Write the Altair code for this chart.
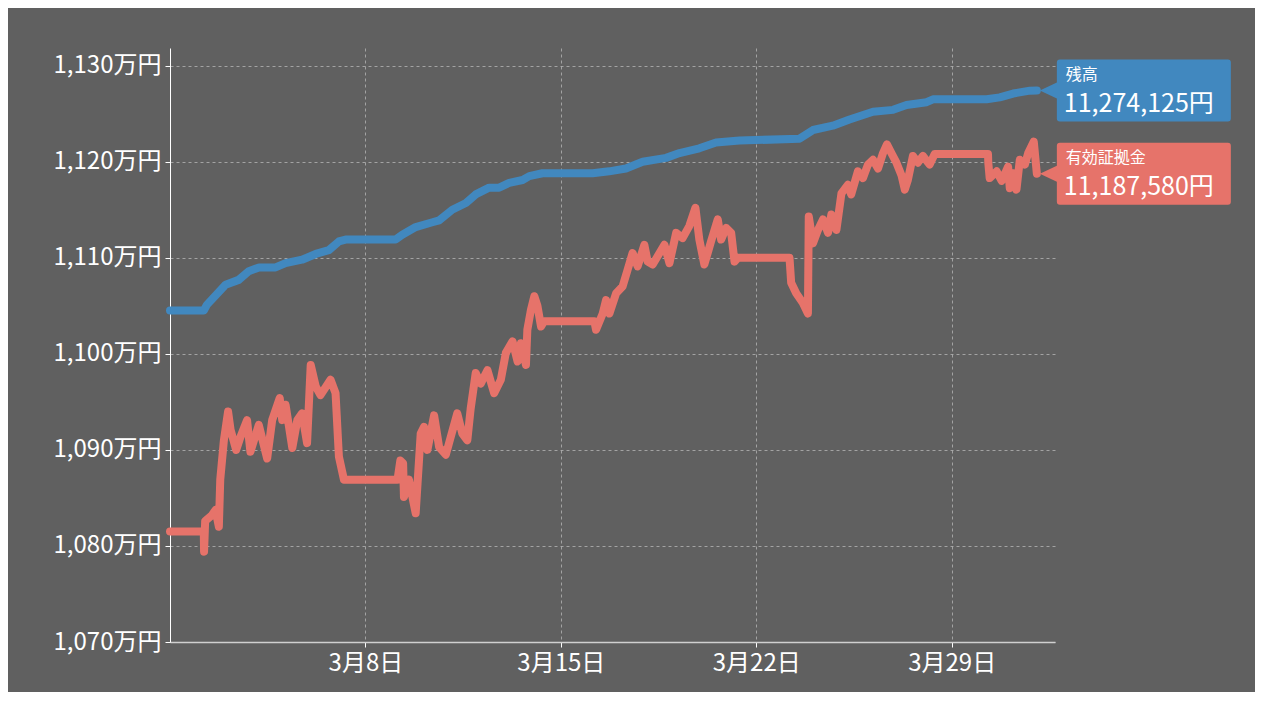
import altair as alt
import numpy as np
import pandas as pd

# ---- data ----
# day of March 2020 as a fractional number (1.0 = 3月1日 0:00), values in 万円
balance_day = [1.00, 2.21, 2.32, 2.99, 3.46, 3.82, 4.19, 4.78, 5.14, 5.73, 6.22, 6.69,
               7.05, 7.29, 9.08, 9.32, 9.80, 10.40, 10.64, 11.11, 11.60, 11.95, 12.43,
               12.79, 13.15, 13.63, 13.87, 14.34, 16.14, 16.73, 17.33, 17.93, 18.77,
               19.25, 19.96, 20.56, 21.40, 23.55, 24.03, 24.74, 25.34, 26.18, 26.90,
               27.38, 28.10, 28.33, 30.25, 30.72, 31.20, 31.80, 32.05]
balance_man = [1104.5, 1104.5, 1105.1, 1107.2, 1107.7, 1108.6, 1109.0, 1109.0, 1109.45,
               1109.8, 1110.4, 1110.8, 1111.7, 1111.9, 1111.9, 1112.4, 1113.2, 1113.7,
               1113.9, 1115.0, 1115.7, 1116.6, 1117.3, 1117.3, 1117.8, 1118.1, 1118.5,
               1118.8, 1118.8, 1119.0, 1119.3, 1120.0, 1120.4, 1120.9, 1121.4, 1122.0,
               1122.2, 1122.4, 1123.3, 1123.75, 1124.4, 1125.2, 1125.4, 1125.9, 1126.2,
               1126.5, 1126.5, 1126.7, 1127.1, 1127.4, 1127.4125]

margin_day = [1.00, 2.21, 2.22, 2.26, 2.50, 2.63, 2.75, 2.80, 2.93, 3.08, 3.17, 3.37,
              3.53, 3.76, 3.88, 4.18, 4.48, 4.66, 4.93, 5.02, 5.14, 5.38, 5.56, 5.73,
              5.91, 6.04, 6.22, 6.39, 6.75, 6.93, 7.05, 7.23, 9.15, 9.25, 9.35, 9.38,
              9.56, 9.80, 9.98, 10.10, 10.22, 10.46, 10.64, 10.88, 11.06, 11.29, 11.47,
              11.65, 11.77, 11.95, 12.13, 12.37, 12.61, 12.85, 13.03, 13.27, 13.45,
              13.57, 13.75, 13.80, 13.93, 14.05, 14.16, 14.29, 14.40, 16.20, 16.26,
              16.50, 16.62, 16.74, 16.98, 17.21, 17.39, 17.57, 17.75, 17.99, 18.11,
              18.29, 18.71, 18.89, 19.13, 19.36, 19.60, 19.82, 19.96, 20.14, 20.38,
              20.62, 20.74, 20.92, 21.10, 21.22, 21.34, 23.19, 23.25, 23.43, 23.67,
              23.85, 23.88, 24.03, 24.21, 24.39, 24.57, 24.69, 24.87, 25.05, 25.28,
              25.40, 25.64, 25.82, 26.00, 26.18, 26.36, 26.54, 26.68, 26.84, 27.02,
              27.20, 27.32, 27.43, 27.61, 27.79, 27.97, 28.21, 28.39, 30.30, 30.31,
              30.36, 30.61, 30.79, 31.02, 31.08, 31.20, 31.32, 31.44, 31.62, 31.74,
              31.94, 32.05]
margin_man = [1081.5, 1081.5, 1079.4, 1082.6, 1083.2, 1083.75, 1082.0, 1086.9, 1091.0,
              1094.0, 1092.1, 1090.0, 1091.4, 1093.1, 1089.8, 1092.6, 1089.1, 1093.1,
              1095.4, 1093.1, 1094.7, 1090.2, 1093.1, 1093.8, 1090.7, 1098.85, 1096.6,
              1095.7, 1097.3, 1095.9, 1089.3, 1086.9, 1086.9, 1088.9, 1088.6, 1085.1,
              1086.9, 1083.4, 1091.7, 1092.4, 1090.0, 1093.6, 1090.3, 1089.5, 1091.4,
              1093.8, 1091.7, 1091.0, 1094.3, 1098.0, 1096.9, 1098.3, 1095.9, 1097.3,
              1100.1, 1101.3, 1099.2, 1101.1, 1098.85, 1102.5, 1104.6, 1106.0, 1105.0,
              1102.85, 1103.4, 1103.4, 1102.5, 1104.2, 1105.6, 1104.2, 1106.3, 1107.0,
              1108.75, 1110.5, 1109.1, 1111.35, 1109.6, 1109.3, 1111.35, 1109.45,
              1112.6, 1112.05, 1113.3, 1115.2, 1111.9, 1109.3, 1111.7, 1114.0, 1111.9,
              1113.1, 1112.6, 1109.6, 1110.0, 1110.0, 1107.4, 1106.3, 1105.3, 1104.2,
              1114.3, 1111.5, 1112.9, 1114.0, 1112.6, 1114.5, 1112.9, 1116.7, 1117.6,
              1116.6, 1119.0, 1118.3, 1119.7, 1120.2, 1119.3, 1120.9, 1121.8, 1120.9,
              1119.9, 1118.6, 1117.1, 1118.1, 1120.6, 1119.9, 1120.6, 1119.7, 1120.8,
              1120.8, 1119.9, 1118.3, 1119.0, 1118.0, 1119.5, 1117.25, 1118.8, 1117.1,
              1120.2, 1119.7, 1120.9, 1122.1, 1118.758]

series_names = ["残高", "有効証拠金"]
last_values = [11274125, 11187580]
series_colors = ["#4188bf", "#e6736a"]
y_ticks_man = [1070, 1080, 1090, 1100, 1110, 1120, 1130]
x_tick_dates = [8, 15, 22, 29]

# ---- build tables ----
start = pd.Timestamp("2020-03-01")


def to_time(days):
    return start + pd.to_timedelta(np.array(days) - 1.0, unit="D")


df = pd.concat([
    pd.DataFrame({"time": to_time(balance_day), "value": np.array(balance_man) * 10000,
                  "series": series_names[0]}),
    pd.DataFrame({"time": to_time(margin_day), "value": np.array(margin_man) * 10000,
                  "series": series_names[1]}),
], ignore_index=True)

last_df = pd.DataFrame({
    "time": [to_time([balance_day[-1]])[0], to_time([margin_day[-1]])[0]],
    "value": last_values,
    "series": series_names,
})

FONT = "Noto Sans CJK JP"

x_enc = alt.X(
    "time:T",
    scale=alt.Scale(domain=[alt.DateTime(year=2020, month=3, date=1),
                            alt.DateTime(year=2020, month=4, date=1, hours=16, minutes=48)]),
    axis=alt.Axis(values=[alt.DateTime(year=2020, month=3, date=d) for d in x_tick_dates],
                  format="%-m月%-d日", title=None, labelPadding=4, tickSize=5,
                  domainColor="#d0d0d0", domainWidth=1.5, labelFlush=False),
)
y_enc = alt.Y(
    "value:Q",
    scale=alt.Scale(domain=[10700000, 11318400], nice=False, zero=False),
    axis=alt.Axis(values=[v * 10000 for v in y_ticks_man],
                  labelExpr="format(datum.value / 10000, ',') + '万円'",
                  title=None, labelPadding=4, tickSize=5, domainColor="#ffffff"),
)
color_enc = alt.Color("series:N", scale=alt.Scale(domain=series_names, range=series_colors),
                      legend=None)

lines = alt.Chart(df).mark_line(strokeWidth=8, strokeCap="round", strokeJoin="round").encode(
    x=x_enc, y=y_enc, color=color_enc
)

CALLOUT = ("M3,0 L20,-8 L20,-28 Q20,-31 23,-31 L191,-31 Q194,-31 194,-28 "
           "L194,28 Q194,31 191,31 L23,31 Q20,31 20,28 L20,8 Z")

callout = alt.Chart(last_df).mark_point(
    shape=CALLOUT, size=4, filled=True, opacity=1, strokeWidth=0
).encode(x="time:T", y="value:Q", color=color_enc)

name_text = alt.Chart(last_df).mark_text(
    align="left", baseline="middle", dx=29, dy=-16, fontSize=16, font=FONT, color="#ffffff"
).encode(x="time:T", y="value:Q", text="series:N")

value_text = alt.Chart(last_df).transform_calculate(
    label="format(datum.value, ',') + '円'"
).mark_text(
    align="left", baseline="middle", dx=27, dy=13, fontSize=25, font=FONT, color="#ffffff"
).encode(x="time:T", y="value:Q", text="label:N")

chart = alt.layer(lines, callout, name_text, value_text).properties(
    width=885, height=594,
    autosize="none",
    padding={"left": 162, "top": 40, "right": 200, "bottom": 50},
    background="#606060",
).configure_view(stroke=None).configure_axis(
    labelFont=FONT, labelFontSize=24, labelColor="#ffffff",
    tickColor="#ffffff", domainWidth=1,
    grid=True, gridColor="#b4b4b4", gridDash=[3, 3], gridWidth=1, gridOpacity=0.8,
)

chart.save("out.html", embed_options={"renderer": "svg", "actions": False})
